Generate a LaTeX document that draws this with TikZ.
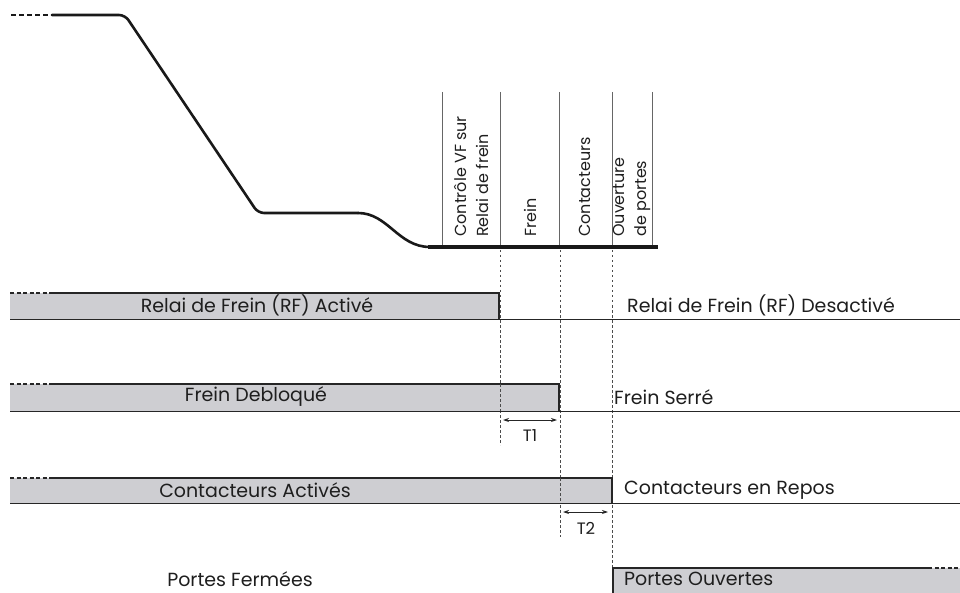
\documentclass[tikz,border=0pt]{standalone}
\usepackage{fontspec}
\setmainfont{Poppins}
\usetikzlibrary{arrows.meta}
\definecolor{barfill}{RGB}{206,206,210}
\definecolor{txt}{RGB}{30,30,30}
\tikzset{
  lbl/.style={font=\fontsize{19}{21}\selectfont, text=txt, inner sep=0pt},
  vlbl/.style={font=\fontsize{16}{22}\selectfont, text=txt, inner sep=0pt, rotate=90, anchor=west, align=left},
  tlbl/.style={font=\fontsize{16.5}{18}\selectfont, text=txt, inner sep=0pt},
  graphline/.style={line width=2.6pt, black!90, line cap=round, line join=round},
  sepline/.style={line width=0.8pt, black!60},
  guide/.style={line width=0.7pt, black!70, dash pattern=on 2.5pt off 2.5pt},
  rowline/.style={line width=0.9pt, black!85},
  boxedge/.style={line width=1.4pt, black!85},
  dashedge/.style={line width=1.4pt, black!85, dash pattern=on 4pt off 2.5pt},
  bar/.style={fill=barfill, draw=none},
  dur/.style={line width=0.9pt, black!85, {Stealth[length=6pt,width=4pt]}-{Stealth[length=6pt,width=4pt]}}
}
\begin{document}
\begin{tikzpicture}[x=1pt,y=-1pt]
\useasboundingbox (0,0) rectangle (960,593);
% speed curve
\draw[graphline, dash pattern=on 5pt off 3pt, line cap=butt] (11,15) -- (52,15);
\draw[graphline, rounded corners=6pt] (52,15) -- (125,15) -- (258,213) -- (358,213);
\draw[graphline] (358,213) .. controls (388,213) and (398,247) .. (430,247);
\draw[line width=4pt, black!90] (428,247) -- (658,247);
% column separators
\foreach \x in {442,500,559,612,652} \draw[sepline] (\x,92) -- (\x,245);
% column labels
\node[vlbl] (c1) at (471,237) {Contrôle VF sur\\Relai de frein};
\node[vlbl] (c2) at (530,237) {Frein};
\node[vlbl] (c3) at (585,237) {Contacteurs};
\node[vlbl] (c4) at (632,237) {Ouverture\\de portes};
% guides
\draw[guide] (500,250) -- (500,445);
\draw[guide] (560,250) -- (560,537);
\draw[guide] (612,250) -- (612,567);
% row 1
\fill[bar] (10,293) rectangle (499,319);
\draw[dashedge] (10,293) -- (52,293);
\draw[boxedge] (52,293) -- (499,293) -- (499,319);
\draw[rowline] (10,319) -- (960,319);
\node[lbl] (r1a) at (257,305) {Relai de Frein (RF) Activé};
\node[lbl, anchor=west] (r1b) at (627,305) {Relai de Frein (RF) Desactivé};
% row 2
\fill[bar] (10,384) rectangle (559,411);
\draw[dashedge] (10,384) -- (52,384);
\draw[boxedge] (52,384) -- (559,384) -- (559,411);
\draw[rowline] (10,411) -- (960,411);
\node[lbl] (r2a) at (256,397) {Frein Debloqué};
\node[lbl, anchor=west] (r2b) at (614,397) {Frein Serré};
\draw[guide] (500,384) -- (500,411);
\coordinate (t1a) at (503,420);
\coordinate (t1b) at (557,420);
\draw[dur] (t1a) -- (t1b);
\node[tlbl] (t1) at (530,436) {T1};
% row 3
\fill[bar] (10,478) rectangle (612,503);
\draw[dashedge] (10,478) -- (52,478);
\draw[boxedge] (52,478) -- (612,478) -- (612,503);
\draw[rowline] (10,503) -- (960,503);
\node[lbl] (r3a) at (255,490) {Contacteurs Activés};
\node[lbl, anchor=west] (r3b) at (624,490) {Contacteurs en Repos};
\draw[guide] (560,478) -- (560,503);
\coordinate (t2a) at (563,512);
\coordinate (t2b) at (608,512);
\draw[dur] (t2a) -- (t2b);
\node[tlbl] (t2) at (586,528) {T2};
% row 4
\fill[bar] (613,568) rectangle (960,593);
\draw[boxedge] (613,594) -- (613,568) -- (928,568);
\draw[dashedge] (928,568) -- (960,568);
\node[lbl] (r4a) at (240,579) {Portes Fermées};
\node[lbl, anchor=west] (r4b) at (624,579) {Portes Ouvertes};
\end{tikzpicture}
\end{document}
